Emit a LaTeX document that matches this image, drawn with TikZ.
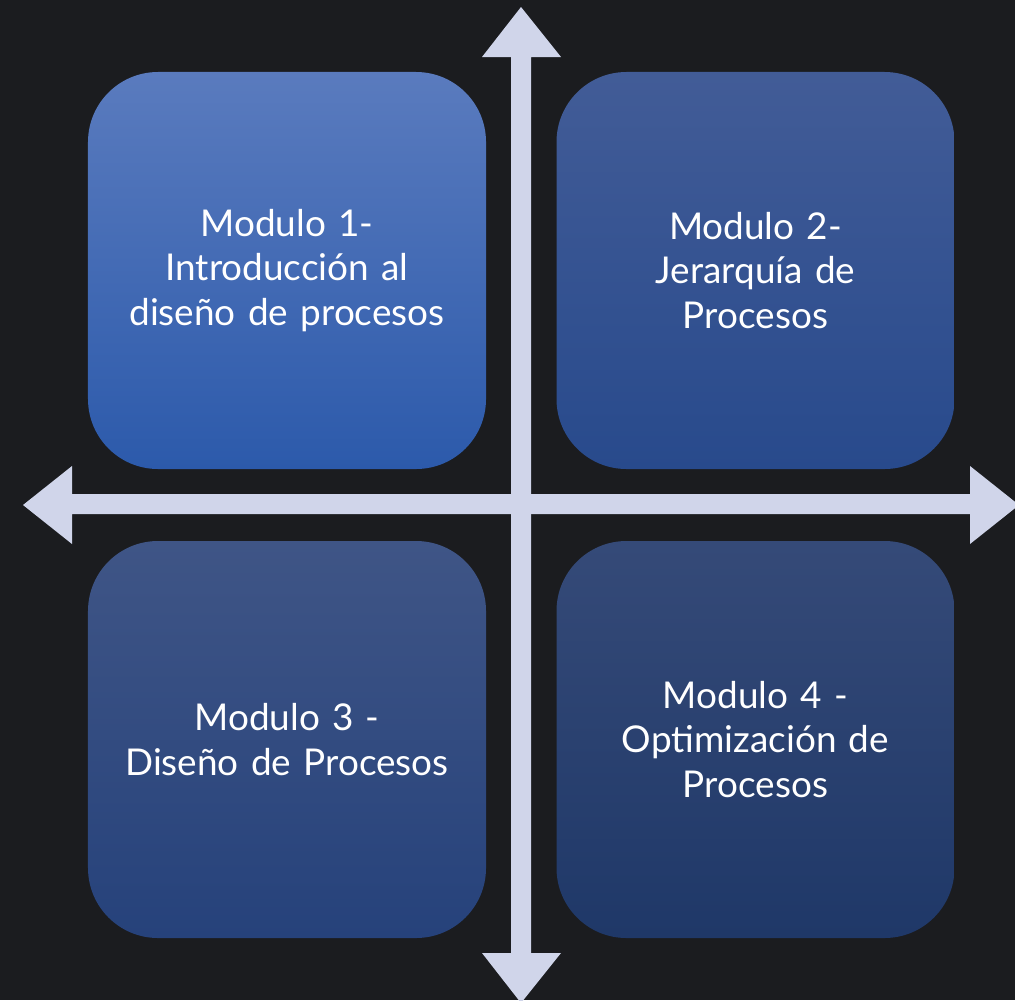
\documentclass[tikz,border=0pt]{standalone}
\usepackage{fontspec}
\setmainfont{Lato}
\definecolor{fondo}{HTML}{1B1C1F}
\definecolor{flecha}{HTML}{D0D5EA}
\definecolor{azulA}{HTML}{5A7BBE}
\definecolor{azulB}{HTML}{2C5AAB}
\definecolor{azulC}{HTML}{425C97}
\definecolor{azulD}{HTML}{284A8C}
\definecolor{azulE}{HTML}{3F5586}
\definecolor{azulF}{HTML}{26427B}
\definecolor{azulG}{HTML}{354A78}
\definecolor{azulH}{HTML}{1F3868}
\tikzset{
	modulo/.style={rectangle, rounded corners=1.4cm, minimum width=7.96cm, minimum height=7.94cm,
		inner sep=0pt, text width=7.4cm, align=center, text=white,
		font=\fontsize{21}{25.5}\selectfont},
}
\begin{document}
\begin{tikzpicture}[x=0.2mm,y=-0.2mm]
		\useasboundingbox (0,0) rectangle (1015,1000);
		\clip (0,0) rectangle (1015,1000);
		\fill [fondo] (0,0) rectangle (1015,1000);
		
		\node [modulo, top color=azulA, bottom color=azulB] (m1) at (287,270.5) {Modulo 1-\\Introducción al\\diseño de procesos};
		\node [modulo, top color=azulC, bottom color=azulD] (m2) at (755.5,270.5) {Modulo 2-\\Jerarquía de\\Procesos};
		\node [modulo, top color=azulE, bottom color=azulF] (m3) at (287,739.5) {Modulo 3 -\\Diseño de Procesos};
		\node [modulo, top color=azulG, bottom color=azulH] (m4) at (755.5,739.5) {Modulo 4 -\\Optimización de\\Procesos};
		
		\fill [flecha] (511,57) -- (482,57) -- (521,7) -- (561,57) -- (531,57) -- (531,953) -- (561,953)
			-- (521,1003) -- (482,953) -- (511,953) -- cycle;
		\fill [flecha] (72,494) -- (72,466) -- (23,505) -- (72,544) -- (72,514) -- (970,514) -- (970,544)
			-- (1019,505) -- (970,466) -- (970,494) -- cycle;
	\end{tikzpicture}
\end{document}
